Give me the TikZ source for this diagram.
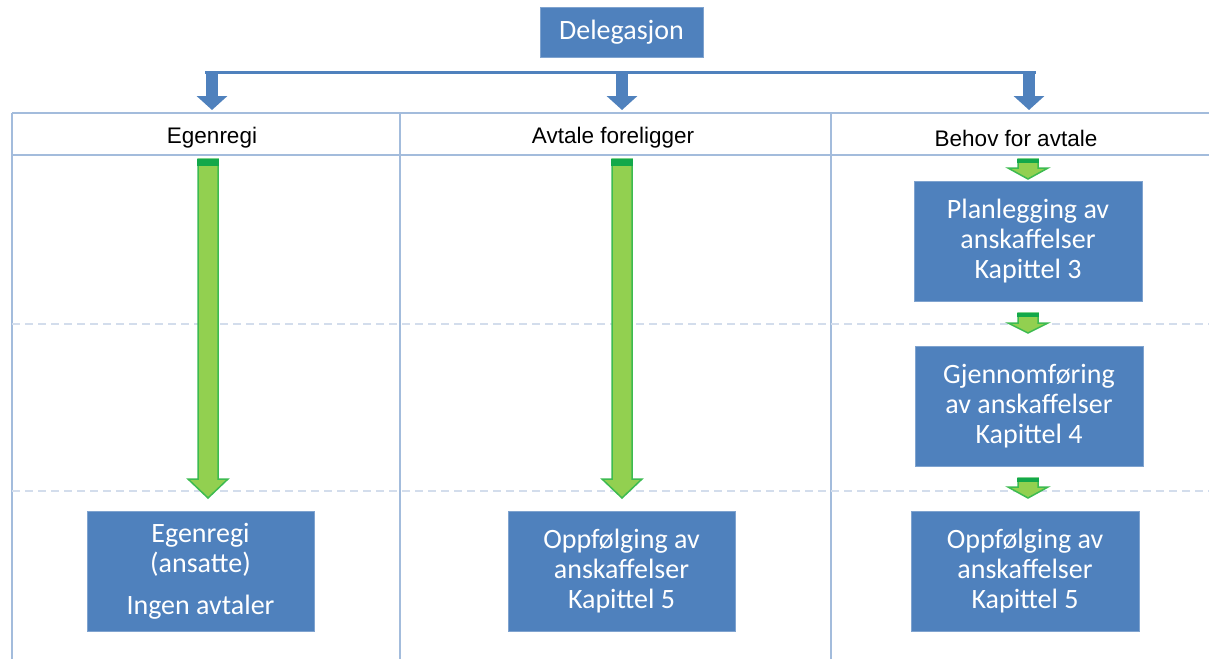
\documentclass[tikz,border=0pt]{standalone}
\usepackage{fontspec}
\setmainfont{Carlito}
\newfontfamily\hdrfont{Liberation Sans}
\usetikzlibrary{arrows.meta}
\definecolor{boxblue}{HTML}{4F81BD}
\definecolor{boxedge}{HTML}{7FA3CF}
\definecolor{tablecol}{HTML}{A3BCDC}
\definecolor{dashcol}{HTML}{D3DDEC}
\definecolor{glight}{HTML}{92D050}
\definecolor{gedge}{HTML}{3DBB50}
\definecolor{gdark}{HTML}{13A84A}
\tikzset{
  bluebox/.style={fill=boxblue, draw=boxedge, line width=0.8pt, text=white, align=center,
    inner sep=0pt, font=\fontsize{28}{30}\selectfont},
  hdrtext/.style={font=\hdrfont\fontsize{22.5}{26}\selectfont, inner sep=0pt},
  tline/.style={draw=tablecol, line width=1.5pt},
  dline/.style={draw=dashcol, line width=1.5pt, dash pattern=on 8pt off 5pt},
  barline/.style={draw=boxblue, line width=3pt},
  bluearr/.style={draw=boxblue, line width=12pt, -{Triangle[width=30pt,length=14pt]}},
  garrow/.style={fill=glight, draw=gedge, line width=1.5pt, line join=miter},
}
\newcommand\greenarr[5]{%
  \draw[garrow] ({#1-10},#2) -- ({#1-10},#3) -- ({#1-20},#3) -- (#1,#4) -- ({#1+20},#3) -- ({#1+10},#3) -- ({#1+10},#2) -- cycle;
  \fill[gdark] ({#1-10.75},#2) rectangle ({#1+10.75},{#2+#5});
}
\begin{document}
\begin{tikzpicture}[x=1pt,y=-1pt]
\useasboundingbox[fill=white] (0,0) rectangle (1209,659);

% top box
\node[bluebox, minimum width=163pt, minimum height=50pt] (deleg) at (621.5,32.5) {Delegasjon};

% table grid
\draw[tline] (12,113) -- (1209,113);
\draw[tline] (12,155) -- (1209,155);
\draw[tline] (12,113) -- (12,659);
\draw[tline] (400,113) -- (400,659);
\draw[tline] (831,113) -- (831,659);
\draw[dline] (12,324) -- (1209,324);
\draw[dline] (12,491) -- (1209,491);

% headers
\node[hdrtext] (h1) at (212,138) {Egenregi};
\node[hdrtext] (h2) at (613,138) {Avtale foreligger};
\node[hdrtext] (h3) at (1016,138) {Behov for avtale};

% distribution bar and blue arrows
\coordinate (barL) at (205,72);
\coordinate (barR) at (1036,72);
\coordinate (a1s) at (212,71);
\coordinate (a2s) at (622,71);
\coordinate (a3s) at (1029,71);
\coordinate (a1e) at (212,110);
\coordinate (a2e) at (622,110);
\coordinate (a3e) at (1029,110);
\draw[barline] (barL) -- (barR);
\draw[bluearr] (a1s) -- (a1e);
\draw[bluearr] (a2s) -- (a2e);
\draw[bluearr] (a3s) -- (a3e);

% boxes
\node[bluebox, minimum width=227pt, minimum height=120pt] (b1) at (200.5,571)
  {Egenregi\\(ansatte)\\[12pt]Ingen avtaler};
\node[bluebox, minimum width=227pt, minimum height=120pt] (b2) at (621.5,571)
  {Oppfølging av\\anskaffelser\\Kapittel 5};
\node[bluebox, minimum width=228pt, minimum height=120pt] (p1) at (1028,241)
  {Planlegging av\\anskaffelser\\Kapittel 3};
\node[bluebox, minimum width=228pt, minimum height=120pt] (p2) at (1029,406)
  {Gjennomføring\\av anskaffelser\\Kapittel 4};
\node[bluebox, minimum width=228pt, minimum height=120pt] (b3) at (1025,571)
  {Oppfølging av\\anskaffelser\\Kapittel 5};

% green arrows
\greenarr{208}{159}{479}{498}{7}
\greenarr{622}{159}{479}{498}{7}
\greenarr{1028}{159}{168}{179}{4}
\greenarr{1028}{313}{323}{333}{4}
\greenarr{1028}{478}{487}{498}{4}
\end{tikzpicture}
\end{document}
